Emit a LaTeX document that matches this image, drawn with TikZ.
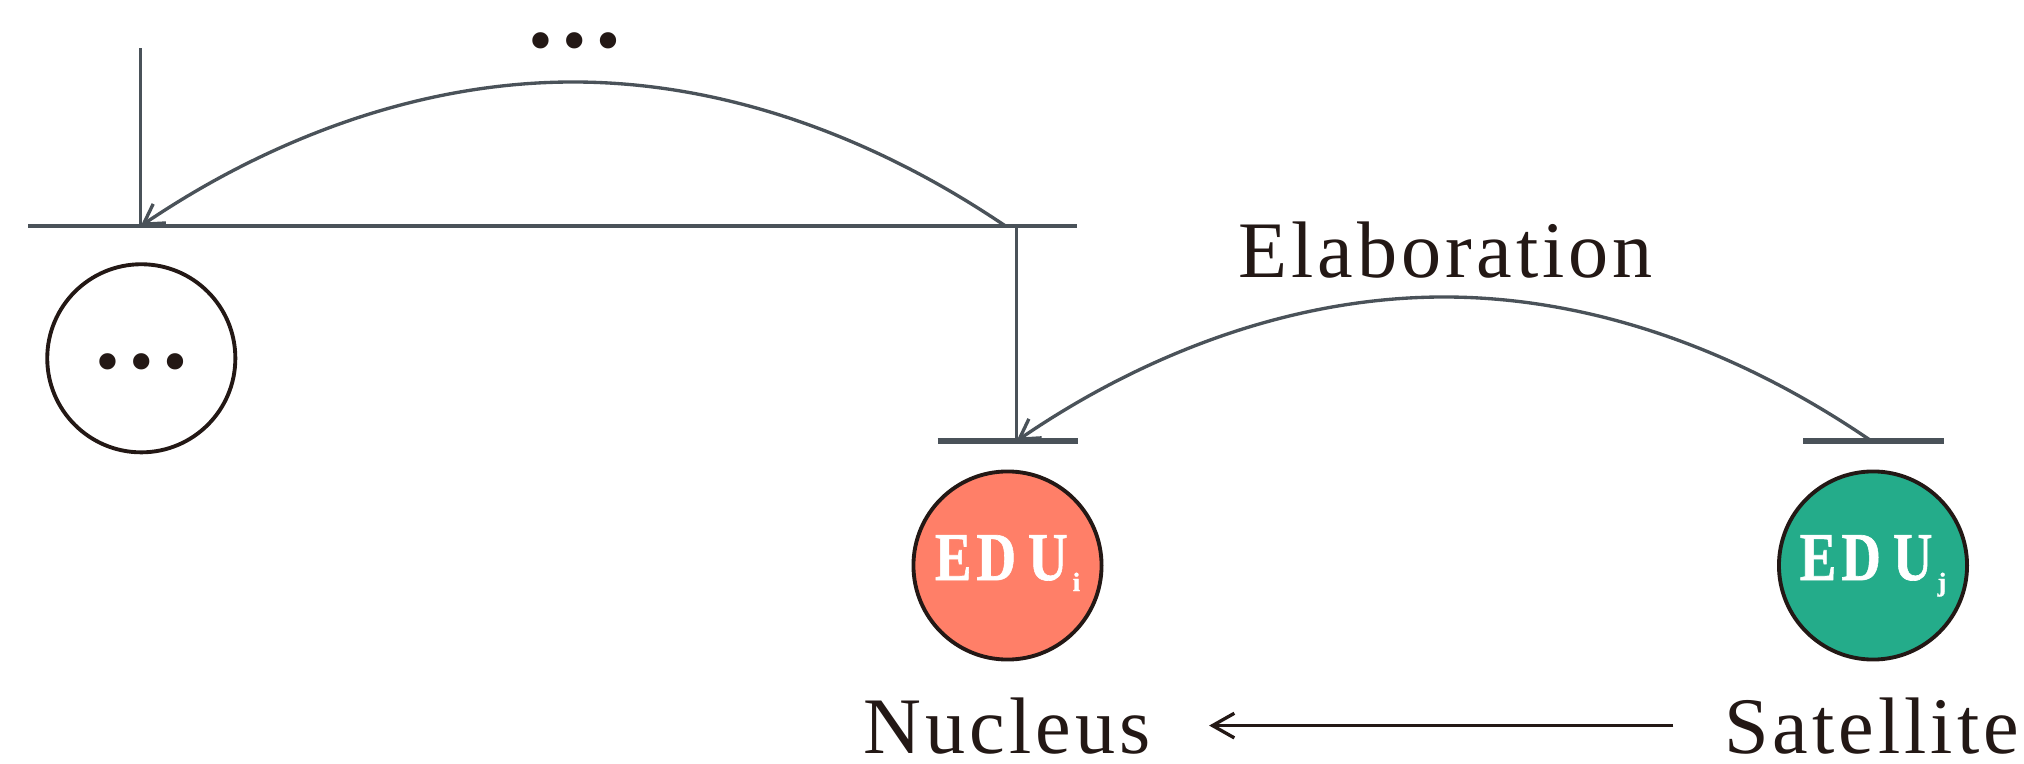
\documentclass[tikz,border=0pt]{standalone}
\usepackage{fontspec}
\usepackage{graphicx}
\setmainfont{Liberation Serif}
\newfontfamily\lblfont[LetterSpace=5]{Liberation Serif}
\newfontfamily\edufont[FakeBold=1]{Liberation Serif Bold}
\usetikzlibrary{arrows.meta}

\definecolor{ink}{RGB}{35,24,21}
\definecolor{slate}{RGB}{74,82,89}
\definecolor{nucfill}{RGB}{255,127,104}
\definecolor{satfill}{RGB}{36,172,138}

% unit label: condensed, spaced capitals with a lowered index
\newcommand\narrow[1]{\scalebox{0.8}[1]{#1}}
\newcommand\eduname[1]{\narrow{E}\hspace{0.05cm}\narrow{D}\hspace{0.12cm}\narrow{U}\hspace{0.05cm}%
  \raisebox{-0.11cm}{\fontsize{7.5pt}{9pt}\selectfont #1}}

\begin{document}
\begin{tikzpicture}[x=0.01cm, y=-0.01cm,
  bar/.style={draw=slate, line width=1.15pt},
  thickbar/.style={draw=slate, line width=1.7pt},
  stem/.style={draw=slate, line width=0.8pt},
  relarc/.style={draw=slate, line width=0.95pt, -{Straight Barb[length=5.5pt,width=6.5pt]}},
  unit/.style={circle, draw=ink, line width=1.1pt, minimum size=1.88cm, inner sep=0pt},
  edu/.style={unit, text=white, font=\edufont\fontsize{19.5pt}{22pt}\selectfont,
    text height=0.41cm, text depth=0.12cm},
  lbl/.style={text=ink, font=\lblfont\fontsize{22.8pt}{27pt}\selectfont, anchor=base, inner sep=0pt},
  dots/.style={text=ink, font=\fontsize{28.5pt}{30pt}\selectfont\bfseries, anchor=base, inner sep=0pt}
]
\useasboundingbox (0,0) rectangle (2024,764);

% units
\node[unit] (more) at (141.3,358.3) {};
\node[dots] (moredots) at (141.3,369) {…};
\node[edu, fill=nucfill] (edui) at (1007.5,565.5) {\eduname{i}};
\node[edu, fill=satfill] (eduj) at (1873,565.5) {\eduname{j}};

% span bars
\coordinate (tbL) at (28.4,226);
\coordinate (tbR) at (1077,226);
\coordinate (mbL) at (937.5,441);
\coordinate (mbR) at (1078,441);
\coordinate (rbL) at (1803,441);
\coordinate (rbR) at (1944,441);
\draw[bar] (tbL) -- (tbR);
\draw[thickbar] (mbL) -- (mbR);
\draw[thickbar] (rbL) -- (rbR);

% vertical stems
\coordinate (leftTop) at (140.7,48.5);
\coordinate (leftFoot) at (140.7,226);
\coordinate (spanTop) at (1016.5,226);
\coordinate (spanFoot) at (1016.5,441);
\draw[stem] (leftTop) -- (leftFoot);
\draw[stem] (spanTop) -- (spanFoot);

% relation arcs
\coordinate (upStart) at (1005.5,226);
\coordinate (upPeak) at (573.1,82);
\draw[relarc] (upStart) parabola bend (upPeak) (leftFoot);
\coordinate (elStart) at (1871.5,441);
\coordinate (elPeak) at (1444,297);
\draw[relarc] (elStart) parabola bend (elPeak) (spanFoot);

% labels
\node[dots] (topdots) at (574.6,47.5) {…};
\node[lbl] (elab) at (1445.7,277.3) {Elaboration};
\node[lbl] (nuc) at (1007,753) {Nucleus};
\node[lbl] (sat) at (1871.5,753) {Satellite};
\draw[ink, line width=0.95pt, -{Straight Barb[length=6.2pt,width=7pt]},
  shorten <=0.5cm, shorten >=0.58cm] (sat.west) -- (nuc.east);
\end{tikzpicture}
\end{document}
